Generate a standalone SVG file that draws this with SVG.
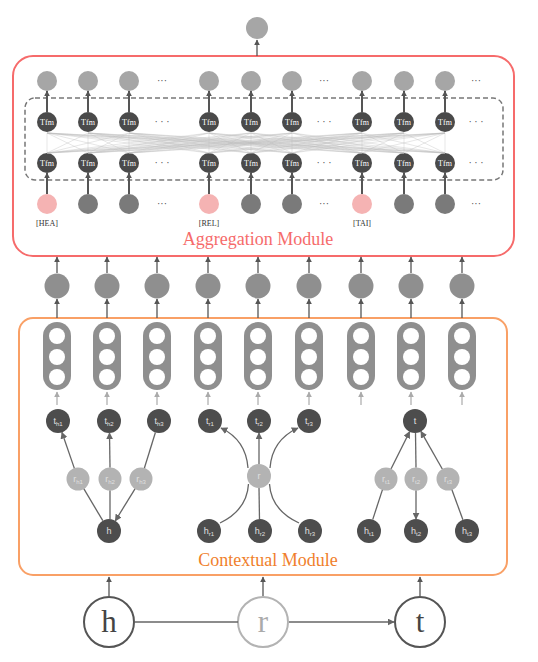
<svg xmlns="http://www.w3.org/2000/svg" width="538" height="662" viewBox="0 0 538 662">
<style>
.agg{fill:none;stroke:#F66B6B;stroke-width:2}
.ctx{fill:none;stroke:#F9A066;stroke-width:2}
.dash{fill:none;stroke:#777;stroke-width:1.5;stroke-dasharray:5 3}
.out{fill:#A6A6A6}
.tfm{fill:#4A4A4A}
.inp{fill:#7A7A7A}
.pink{fill:#F5B3B3}
.mid{fill:#8F8F8F}
.cap{fill:#8F8F8F}
.hole{fill:#fff}
.dark{fill:#4D4D4D}
.lite{fill:#B3B3B3}
.tt{font-family:"Liberation Serif",serif;font-size:8px;fill:#fff;text-anchor:middle}
.lab{font-family:"Liberation Serif",serif;font-size:8px;fill:#333;text-anchor:middle}
.dots{font-family:"Liberation Serif",serif;font-size:10px;fill:#444;text-anchor:middle}
.nt{font-family:"Liberation Sans",sans-serif;font-size:9px;fill:#E0E0E0;text-anchor:middle}
.sub{font-size:6px}
.title{font-family:"Liberation Serif",serif;font-size:18px;text-anchor:middle}
.big{font-family:"Liberation Serif",serif;font-size:31px;text-anchor:middle}
.bigd{fill:#444}
.bigl{fill:#AAA}
.ad{stroke:#555;stroke-width:2;fill:none}
.al{stroke:#AAA;stroke-width:1.2;fill:none}
.ag{stroke:#666;stroke-width:1.3;fill:none}
.fc{stroke:#BBB;stroke-width:0.8;stroke-opacity:0.45;fill:none}
</style>
<defs>
<marker id="md" viewBox="0 0 10 10" refX="9" refY="5" markerWidth="6" markerHeight="6" orient="auto" markerUnits="userSpaceOnUse"><path d="M0,0 L10,5 L0,10 z" fill="#555"/></marker>
<marker id="ml" viewBox="0 0 10 10" refX="9" refY="5" markerWidth="6" markerHeight="6" orient="auto" markerUnits="userSpaceOnUse"><path d="M0,0 L10,5 L0,10 z" fill="#AAA"/></marker>
<marker id="mg" viewBox="0 0 10 10" refX="9" refY="5" markerWidth="7" markerHeight="7" orient="auto" markerUnits="userSpaceOnUse"><path d="M0,0 L10,5 L0,10 z" fill="#666"/></marker>
</defs>

<!-- Aggregation module -->
<g id="aggregation-module">
<rect class="agg" x="13" y="56" width="501" height="200" rx="20"/>
<rect class="dash" x="25" y="98" width="478" height="82" rx="10"/>
<text class="title" x="258" y="245" style="fill:#F66B6B">Aggregation Module</text>
</g>

<g id="final-output"><circle class="out" cx="257" cy="28" r="11"/></g>

<g id="agg-output-row">
<circle class="out" cx="47" cy="81" r="10"/><circle class="out" cx="88" cy="81" r="10"/><circle class="out" cx="129" cy="81" r="10"/>
<circle class="out" cx="209" cy="81" r="10"/><circle class="out" cx="251" cy="81" r="10"/><circle class="out" cx="292" cy="81" r="10"/>
<circle class="out" cx="362" cy="81" r="10"/><circle class="out" cx="404" cy="81" r="10"/><circle class="out" cx="445" cy="81" r="10"/>
<text class="dots" x="162" y="84">···</text><text class="dots" x="324" y="84">···</text><text class="dots" x="476" y="84">···</text>
</g>

<g id="tfm-upper">
<circle class="tfm" cx="47" cy="122" r="10"/><circle class="tfm" cx="88" cy="122" r="10"/><circle class="tfm" cx="129" cy="122" r="10"/>
<circle class="tfm" cx="209" cy="122" r="10"/><circle class="tfm" cx="251" cy="122" r="10"/><circle class="tfm" cx="292" cy="122" r="10"/>
<circle class="tfm" cx="362" cy="122" r="10"/><circle class="tfm" cx="404" cy="122" r="10"/><circle class="tfm" cx="445" cy="122" r="10"/>
<text class="tt" x="47" y="125">Tfm</text><text class="tt" x="88" y="125">Tfm</text><text class="tt" x="129" y="125">Tfm</text>
<text class="tt" x="209" y="125">Tfm</text><text class="tt" x="251" y="125">Tfm</text><text class="tt" x="292" y="125">Tfm</text>
<text class="tt" x="362" y="125">Tfm</text><text class="tt" x="404" y="125">Tfm</text><text class="tt" x="445" y="125">Tfm</text>
<text class="dots" x="162" y="125">· · ·</text><text class="dots" x="324" y="125">· · ·</text><text class="dots" x="476" y="125">· · ·</text>
</g>

<g id="tfm-lower">
<circle class="tfm" cx="47" cy="163" r="10"/><circle class="tfm" cx="88" cy="163" r="10"/><circle class="tfm" cx="129" cy="163" r="10"/>
<circle class="tfm" cx="209" cy="163" r="10"/><circle class="tfm" cx="251" cy="163" r="10"/><circle class="tfm" cx="292" cy="163" r="10"/>
<circle class="tfm" cx="362" cy="163" r="10"/><circle class="tfm" cx="404" cy="163" r="10"/><circle class="tfm" cx="445" cy="163" r="10"/>
<text class="tt" x="47" y="166">Tfm</text><text class="tt" x="88" y="166">Tfm</text><text class="tt" x="129" y="166">Tfm</text>
<text class="tt" x="209" y="166">Tfm</text><text class="tt" x="251" y="166">Tfm</text><text class="tt" x="292" y="166">Tfm</text>
<text class="tt" x="362" y="166">Tfm</text><text class="tt" x="404" y="166">Tfm</text><text class="tt" x="445" y="166">Tfm</text>
<text class="dots" x="162" y="166">· · ·</text><text class="dots" x="324" y="166">· · ·</text><text class="dots" x="476" y="166">· · ·</text>
</g>

<g id="agg-input-row">
<circle class="pink" cx="47" cy="204" r="10"/><circle class="inp" cx="88" cy="204" r="10"/><circle class="inp" cx="129" cy="204" r="10"/>
<circle class="pink" cx="209" cy="204" r="10"/><circle class="inp" cx="251" cy="204" r="10"/><circle class="inp" cx="292" cy="204" r="10"/>
<circle class="pink" cx="362" cy="204" r="10"/><circle class="inp" cx="404" cy="204" r="10"/><circle class="inp" cx="445" cy="204" r="10"/>
<text class="dots" x="162" y="207">···</text><text class="dots" x="324" y="207">···</text><text class="dots" x="476" y="207">···</text>
<text class="lab" x="47" y="226">[HEA]</text><text class="lab" x="209" y="226">[REL]</text><text class="lab" x="362" y="226">[TAI]</text>
</g>

<g id="middle-row">
<circle class="mid" cx="57" cy="286" r="12.5"/><circle class="mid" cx="107" cy="286" r="12.5"/><circle class="mid" cx="157" cy="286" r="12.5"/>
<circle class="mid" cx="208" cy="286" r="12.5"/><circle class="mid" cx="258" cy="286" r="12.5"/><circle class="mid" cx="309" cy="286" r="12.5"/>
<circle class="mid" cx="361" cy="286" r="12.5"/><circle class="mid" cx="411" cy="286" r="12.5"/><circle class="mid" cx="462" cy="286" r="12.5"/>
</g>

<!-- Contextual module -->
<g id="contextual-module">
<rect class="ctx" x="19" y="318" width="488" height="257" rx="14"/>
<text class="title" x="268" y="566" style="fill:#F07F2C">Contextual Module</text>
</g>

<g id="capsules">
<g transform="translate(57,0)"><rect class="cap" x="-14" y="322" width="28" height="68" rx="14"/><circle class="hole" cx="0" cy="336" r="8"/><circle class="hole" cx="0" cy="357" r="8"/><circle class="hole" cx="0" cy="377" r="8"/></g>
<g transform="translate(107,0)"><rect class="cap" x="-14" y="322" width="28" height="68" rx="14"/><circle class="hole" cx="0" cy="336" r="8"/><circle class="hole" cx="0" cy="357" r="8"/><circle class="hole" cx="0" cy="377" r="8"/></g>
<g transform="translate(157,0)"><rect class="cap" x="-14" y="322" width="28" height="68" rx="14"/><circle class="hole" cx="0" cy="336" r="8"/><circle class="hole" cx="0" cy="357" r="8"/><circle class="hole" cx="0" cy="377" r="8"/></g>
<g transform="translate(208,0)"><rect class="cap" x="-14" y="322" width="28" height="68" rx="14"/><circle class="hole" cx="0" cy="336" r="8"/><circle class="hole" cx="0" cy="357" r="8"/><circle class="hole" cx="0" cy="377" r="8"/></g>
<g transform="translate(258,0)"><rect class="cap" x="-14" y="322" width="28" height="68" rx="14"/><circle class="hole" cx="0" cy="336" r="8"/><circle class="hole" cx="0" cy="357" r="8"/><circle class="hole" cx="0" cy="377" r="8"/></g>
<g transform="translate(309,0)"><rect class="cap" x="-14" y="322" width="28" height="68" rx="14"/><circle class="hole" cx="0" cy="336" r="8"/><circle class="hole" cx="0" cy="357" r="8"/><circle class="hole" cx="0" cy="377" r="8"/></g>
<g transform="translate(361,0)"><rect class="cap" x="-14" y="322" width="28" height="68" rx="14"/><circle class="hole" cx="0" cy="336" r="8"/><circle class="hole" cx="0" cy="357" r="8"/><circle class="hole" cx="0" cy="377" r="8"/></g>
<g transform="translate(411,0)"><rect class="cap" x="-14" y="322" width="28" height="68" rx="14"/><circle class="hole" cx="0" cy="336" r="8"/><circle class="hole" cx="0" cy="357" r="8"/><circle class="hole" cx="0" cy="377" r="8"/></g>
<g transform="translate(462,0)"><rect class="cap" x="-14" y="322" width="28" height="68" rx="14"/><circle class="hole" cx="0" cy="336" r="8"/><circle class="hole" cx="0" cy="357" r="8"/><circle class="hole" cx="0" cy="377" r="8"/></g>
</g>

<g id="n-th1"><circle class="dark" cx="58" cy="421" r="12"/><text class="nt" x="58" y="424">t<tspan class="sub" dy="1.5">h1</tspan></text></g>
<g id="n-th2"><circle class="dark" cx="109" cy="421" r="12"/><text class="nt" x="109" y="424">t<tspan class="sub" dy="1.5">h2</tspan></text></g>
<g id="n-th3"><circle class="dark" cx="159" cy="421" r="12"/><text class="nt" x="159" y="424">t<tspan class="sub" dy="1.5">h3</tspan></text></g>
<g id="n-tr1"><circle class="dark" cx="210" cy="421" r="12"/><text class="nt" x="210" y="424">t<tspan class="sub" dy="1.5">r1</tspan></text></g>
<g id="n-tr2"><circle class="dark" cx="259" cy="421" r="12"/><text class="nt" x="259" y="424">t<tspan class="sub" dy="1.5">r2</tspan></text></g>
<g id="n-tr3"><circle class="dark" cx="309" cy="421" r="12"/><text class="nt" x="309" y="424">t<tspan class="sub" dy="1.5">r3</tspan></text></g>
<g id="n-t"><circle class="dark" cx="415" cy="421" r="12"/><text class="nt" x="415" y="424">t</text></g>

<g id="n-rh1"><circle class="lite" cx="78" cy="479" r="11.5"/><text class="nt" x="78" y="482">r<tspan class="sub" dy="1.5">h1</tspan></text></g>
<g id="n-rh2"><circle class="lite" cx="110" cy="479" r="11.5"/><text class="nt" x="110" y="482">r<tspan class="sub" dy="1.5">h2</tspan></text></g>
<g id="n-rh3"><circle class="lite" cx="141" cy="479" r="11.5"/><text class="nt" x="141" y="482">r<tspan class="sub" dy="1.5">h3</tspan></text></g>
<g id="n-r"><circle class="lite" cx="259" cy="476" r="12"/><text class="nt" x="259" y="479">r</text></g>
<g id="n-rt1"><circle class="lite" cx="386" cy="479" r="11.5"/><text class="nt" x="386" y="482">r<tspan class="sub" dy="1.5">t1</tspan></text></g>
<g id="n-rt2"><circle class="lite" cx="416" cy="479" r="11.5"/><text class="nt" x="416" y="482">r<tspan class="sub" dy="1.5">t2</tspan></text></g>
<g id="n-rt3"><circle class="lite" cx="448" cy="479" r="11.5"/><text class="nt" x="448" y="482">r<tspan class="sub" dy="1.5">t3</tspan></text></g>

<g id="n-h"><circle class="dark" cx="109" cy="531" r="12"/><text class="nt" x="109" y="534">h</text></g>
<g id="n-hr1"><circle class="dark" cx="209" cy="531" r="12"/><text class="nt" x="209" y="534">h<tspan class="sub" dy="1.5">r1</tspan></text></g>
<g id="n-hr2"><circle class="dark" cx="260" cy="531" r="12"/><text class="nt" x="260" y="534">h<tspan class="sub" dy="1.5">r2</tspan></text></g>
<g id="n-hr3"><circle class="dark" cx="310" cy="531" r="12"/><text class="nt" x="310" y="534">h<tspan class="sub" dy="1.5">r3</tspan></text></g>
<g id="n-ht1"><circle class="dark" cx="369" cy="531" r="12"/><text class="nt" x="369" y="534">h<tspan class="sub" dy="1.5">t1</tspan></text></g>
<g id="n-ht2"><circle class="dark" cx="416" cy="531" r="12"/><text class="nt" x="416" y="534">h<tspan class="sub" dy="1.5">t2</tspan></text></g>
<g id="n-ht3"><circle class="dark" cx="467" cy="531" r="12"/><text class="nt" x="467" y="534">h<tspan class="sub" dy="1.5">t3</tspan></text></g>

<!-- Input triple -->
<g id="in-h"><circle cx="109" cy="622" r="25" fill="#fff" stroke="#555" stroke-width="2"/><text class="big bigd" x="109" y="632">h</text></g>
<g id="in-r"><circle cx="263" cy="622" r="25" fill="#fff" stroke="#B3B3B3" stroke-width="2"/><text class="big bigl" x="263" y="632">r</text></g>
<g id="in-t"><circle cx="420" cy="622" r="25" fill="#fff" stroke="#555" stroke-width="2"/><text class="big bigd" x="420" y="632">t</text></g>

<g id="connectors">
<g id="full-conn">
<path class="fc" d="M47,153 L47,133 M47,153 L88,133 M47,153 L129,133 M47,153 L209,133 M47,153 L251,133 M47,153 L292,133 M47,153 L362,133 M47,153 L404,133 M47,153 L445,133"/>
<path class="fc" d="M88,153 L47,133 M88,153 L88,133 M88,153 L129,133 M88,153 L209,133 M88,153 L251,133 M88,153 L292,133 M88,153 L362,133 M88,153 L404,133 M88,153 L445,133"/>
<path class="fc" d="M129,153 L47,133 M129,153 L88,133 M129,153 L129,133 M129,153 L209,133 M129,153 L251,133 M129,153 L292,133 M129,153 L362,133 M129,153 L404,133 M129,153 L445,133"/>
<path class="fc" d="M209,153 L47,133 M209,153 L88,133 M209,153 L129,133 M209,153 L209,133 M209,153 L251,133 M209,153 L292,133 M209,153 L362,133 M209,153 L404,133 M209,153 L445,133"/>
<path class="fc" d="M251,153 L47,133 M251,153 L88,133 M251,153 L129,133 M251,153 L209,133 M251,153 L251,133 M251,153 L292,133 M251,153 L362,133 M251,153 L404,133 M251,153 L445,133"/>
<path class="fc" d="M292,153 L47,133 M292,153 L88,133 M292,153 L129,133 M292,153 L209,133 M292,153 L251,133 M292,153 L292,133 M292,153 L362,133 M292,153 L404,133 M292,153 L445,133"/>
<path class="fc" d="M362,153 L47,133 M362,153 L88,133 M362,153 L129,133 M362,153 L209,133 M362,153 L251,133 M362,153 L292,133 M362,153 L362,133 M362,153 L404,133 M362,153 L445,133"/>
<path class="fc" d="M404,153 L47,133 M404,153 L88,133 M404,153 L129,133 M404,153 L209,133 M404,153 L251,133 M404,153 L292,133 M404,153 L362,133 M404,153 L404,133 M404,153 L445,133"/>
<path class="fc" d="M445,153 L47,133 M445,153 L88,133 M445,153 L129,133 M445,153 L209,133 M445,153 L251,133 M445,153 L292,133 M445,153 L362,133 M445,153 L404,133 M445,153 L445,133"/>
</g>
<g marker-end="url(#md)">
<line class="ad" x1="47" y1="112" x2="47" y2="91"/><line class="ad" x1="88" y1="112" x2="88" y2="91"/><line class="ad" x1="129" y1="112" x2="129" y2="91"/>
<line class="ad" x1="209" y1="112" x2="209" y2="91"/><line class="ad" x1="251" y1="112" x2="251" y2="91"/><line class="ad" x1="292" y1="112" x2="292" y2="91"/>
<line class="ad" x1="362" y1="112" x2="362" y2="91"/><line class="ad" x1="404" y1="112" x2="404" y2="91"/><line class="ad" x1="445" y1="112" x2="445" y2="91"/>
<line class="ad" x1="47" y1="194" x2="47" y2="173"/><line class="ad" x1="88" y1="194" x2="88" y2="173"/><line class="ad" x1="129" y1="194" x2="129" y2="173"/>
<line class="ad" x1="209" y1="194" x2="209" y2="173"/><line class="ad" x1="251" y1="194" x2="251" y2="173"/><line class="ad" x1="292" y1="194" x2="292" y2="173"/>
<line class="ad" x1="362" y1="194" x2="362" y2="173"/><line class="ad" x1="404" y1="194" x2="404" y2="173"/><line class="ad" x1="445" y1="194" x2="445" y2="173"/>
</g>
<g marker-end="url(#md)" stroke="#555" stroke-width="1.3">
<line x1="257" y1="56" x2="257" y2="40"/>
<line x1="57" y1="273" x2="57" y2="257"/><line x1="107" y1="273" x2="107" y2="257"/><line x1="157" y1="273" x2="157" y2="257"/>
<line x1="208" y1="273" x2="208" y2="257"/><line x1="258" y1="273" x2="258" y2="257"/><line x1="309" y1="273" x2="309" y2="257"/>
<line x1="361" y1="273" x2="361" y2="257"/><line x1="411" y1="273" x2="411" y2="257"/><line x1="462" y1="273" x2="462" y2="257"/>
<line x1="57" y1="318" x2="57" y2="299"/><line x1="107" y1="318" x2="107" y2="299"/><line x1="157" y1="318" x2="157" y2="299"/>
<line x1="208" y1="318" x2="208" y2="299"/><line x1="258" y1="318" x2="258" y2="299"/><line x1="309" y1="318" x2="309" y2="299"/>
<line x1="361" y1="318" x2="361" y2="299"/><line x1="411" y1="318" x2="411" y2="299"/><line x1="462" y1="318" x2="462" y2="299"/>
<line x1="109" y1="596" x2="109" y2="577"/><line x1="263" y1="596" x2="263" y2="577"/><line x1="420" y1="596" x2="420" y2="577"/>
</g>
<g marker-end="url(#ml)">
<line class="al" x1="57" y1="405" x2="57" y2="392"/><line class="al" x1="107" y1="405" x2="107" y2="392"/><line class="al" x1="157" y1="405" x2="157" y2="392"/>
<line class="al" x1="208" y1="405" x2="208" y2="392"/><line class="al" x1="258" y1="405" x2="258" y2="392"/><line class="al" x1="309" y1="405" x2="309" y2="392"/>
<line class="al" x1="361" y1="405" x2="361" y2="392"/><line class="al" x1="411" y1="405" x2="411" y2="392"/><line class="al" x1="462" y1="405" x2="462" y2="392"/>
</g>
<line class="ag" x1="102.8" y1="520.7" x2="83.9" y2="488.9"/>
<line class="ag" x1="74.3" y1="468.1" x2="61.9" y2="432.3" marker-end="url(#mg)"/>
<line class="ag" x1="110" y1="519" x2="110" y2="490.5"/>
<line class="ag" x1="110" y1="467.5" x2="109.5" y2="433" marker-end="url(#mg)"/>
<line class="ag" x1="155.4" y1="432.5" x2="144.4" y2="468"/>
<line class="ag" x1="135" y1="488.8" x2="115.3" y2="520.8" marker-end="url(#mg)"/>
<path class="ag" d="M220,523 Q247,510 248.5,484"/>
<path class="ag" d="M248,468 Q246,440 221,428" marker-end="url(#mg)"/>
<line class="ag" x1="259.5" y1="519" x2="259" y2="488"/>
<line class="ag" x1="259" y1="464" x2="259" y2="433" marker-end="url(#mg)"/>
<path class="ag" d="M299,523 Q271,510 269.5,484"/>
<path class="ag" d="M270,468 Q272,440 298,428" marker-end="url(#mg)"/>
<line class="ag" x1="372.7" y1="519.6" x2="382.4" y2="489.9"/>
<line class="ag" x1="391.1" y1="468.7" x2="409.6" y2="431.7" marker-end="url(#mg)"/>
<line class="ag" x1="415.5" y1="433" x2="416" y2="467.5"/>
<line class="ag" x1="416" y1="490.5" x2="416" y2="519" marker-end="url(#mg)"/>
<line class="ag" x1="462.9" y1="519.7" x2="451.9" y2="489.8"/>
<line class="ag" x1="442.3" y1="469" x2="420.9" y2="431.4" marker-end="url(#mg)"/>
<line x1="135" y1="622" x2="238" y2="622" stroke="#666" stroke-width="1.5"/>
<line x1="289" y1="622" x2="394" y2="622" stroke="#666" stroke-width="1.5" marker-end="url(#mg)"/>
</g>
</svg>
